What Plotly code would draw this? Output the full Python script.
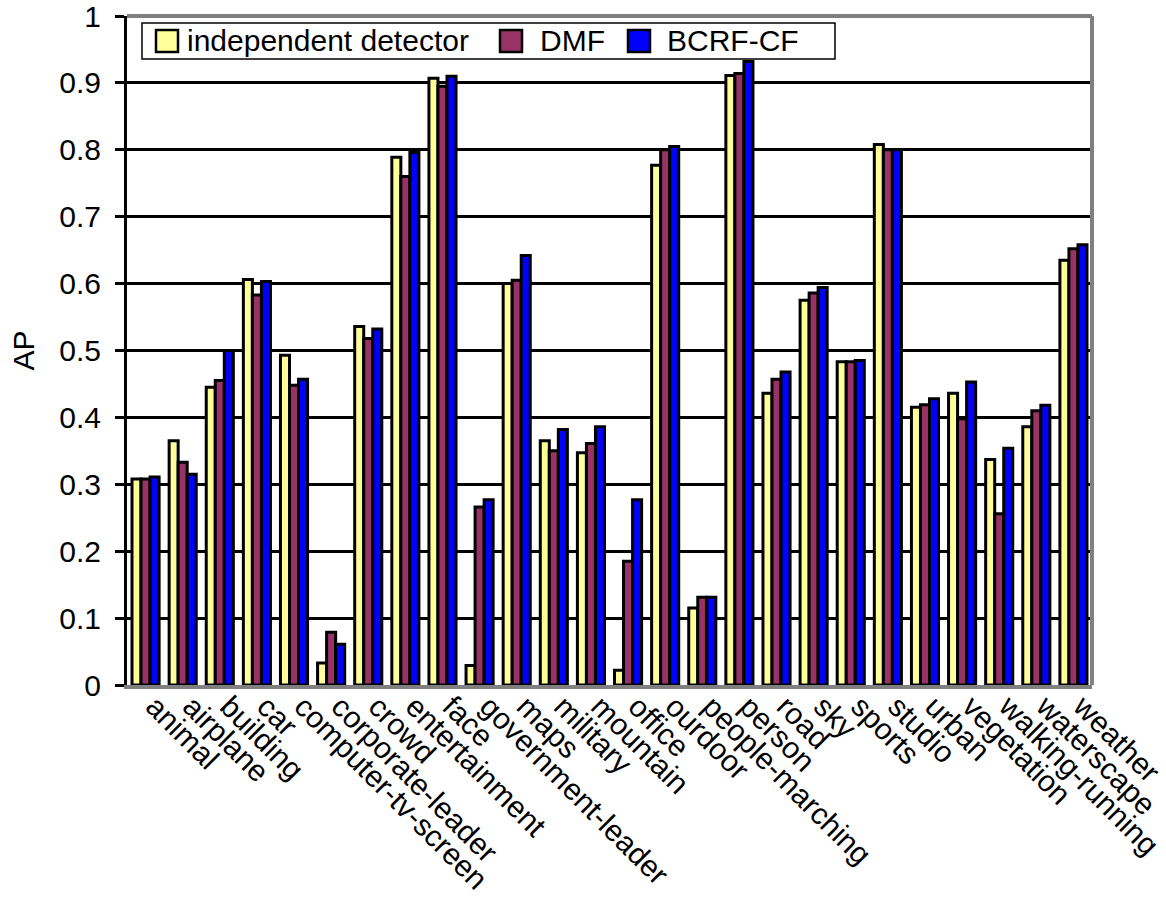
import plotly.graph_objects as go

categories = [
    "animal", "airplane", "building", "car", "computer-tv-screen",
    "corporate-leader", "crowd", "entertainment", "face", "government-leader",
    "maps", "military", "mountain", "office", "ourdoor", "people-marching",
    "person", "road", "sky", "sports", "studio", "urban", "vegetation",
    "walking-running", "waterscape", "weather",
]

independent_detector = [
    0.308, 0.365, 0.445, 0.606, 0.493, 0.033, 0.536, 0.789, 0.907, 0.029,
    0.600, 0.365, 0.347, 0.022, 0.777, 0.115, 0.911, 0.436, 0.575, 0.483,
    0.808, 0.415, 0.436, 0.337, 0.386, 0.635,
]
dmf = [
    0.308, 0.333, 0.455, 0.583, 0.448, 0.079, 0.518, 0.760, 0.895, 0.266,
    0.605, 0.350, 0.361, 0.185, 0.800, 0.131, 0.914, 0.457, 0.586, 0.483,
    0.800, 0.419, 0.398, 0.256, 0.410, 0.652,
]
bcrf_cf = [
    0.311, 0.315, 0.500, 0.603, 0.457, 0.061, 0.532, 0.796, 0.910, 0.277,
    0.642, 0.382, 0.386, 0.277, 0.805, 0.131, 0.932, 0.468, 0.594, 0.485,
    0.800, 0.428, 0.453, 0.354, 0.418, 0.658,
]

series_names = ["independent detector", "DMF", "BCRF-CF"]
series_values = [independent_detector, dmf, bcrf_cf]
series_colors = ["#FFFF99", "#993366", "#0000FF"]

y_ticks = [0, 0.1, 0.2, 0.3, 0.4, 0.5, 0.6, 0.7, 0.8, 0.9, 1]
y_tick_text = ["0", "0.1", "0.2", "0.3", "0.4", "0.5", "0.6", "0.7", "0.8", "0.9", "1"]

FONT = "Liberation Sans, Arial, sans-serif"
SIZE = 30

# figure / plot-area geometry in pixels
W, H = 1166, 899
M_L, M_R, M_T, M_B = 127, 74, 16, 214
PW, PH = W - M_L - M_R, H - M_T - M_B


def px_x(px):
    return (px - M_L) / PW


def px_y(py):
    return (H - M_B - py) / PH


fig = go.Figure()
for name, values, color in zip(series_names, series_values, series_colors):
    fig.add_trace(go.Bar(
        name=name,
        x=categories,
        y=values,
        marker=dict(color=color, line=dict(color="black", width=3)),
        showlegend=False,
    ))

fig.update_layout(
    width=W,
    height=H,
    margin=dict(l=M_L, r=M_R, t=M_T, b=M_B),
    paper_bgcolor="white",
    plot_bgcolor="white",
    barmode="group",
    bargap=0.27,
    bargroupgap=0,
    font=dict(family=FONT, size=SIZE, color="black"),
    showlegend=False,
)

fig.update_xaxes(
    type="category",
    tickangle=45,
    showgrid=False,
    showline=True,
    linecolor="#808080",
    linewidth=4,
    ticks="",
    automargin=False,
    ticklabelstandoff=-12,
    ticklabelshift=9,
    ticklabeloverflow="allow",
    tickfont=dict(family=FONT, size=SIZE, color="black"),
)

fig.update_yaxes(
    range=[0, 1],
    tickvals=y_ticks,
    ticktext=y_tick_text,
    showgrid=True,
    gridcolor="black",
    gridwidth=3,
    zeroline=False,
    showline=True,
    linecolor="black",
    linewidth=3,
    ticks="outside",
    ticklen=9,
    tickwidth=3,
    tickcolor="black",
    ticklabelstandoff=8,
    ticklabeloverflow="allow",
    automargin=False,
    tickfont=dict(family=FONT, size=SIZE, color="black"),
    title=dict(text="AP", font=dict(family=FONT, size=SIZE, color="black"), standoff=16),
)

# grey frame on the top and right edges of the plot area
fig.add_shape(type="line", xref="paper", yref="paper", x0=0, x1=1, y0=1, y1=1,
              line=dict(color="#808080", width=4), layer="above")
fig.add_shape(type="line", xref="paper", yref="paper", x0=1, x1=1, y0=0, y1=1,
              line=dict(color="#808080", width=4), layer="above")

# legend box drawn inside the plot area
fig.add_shape(type="rect", xref="paper", yref="paper",
              x0=px_x(142), x1=px_x(835), y0=px_y(23), y1=px_y(59),
              fillcolor="white", line=dict(color="black", width=1.5), layer="above")
legend_symbol_left = [156, 500, 628]
legend_text_left = [187, 540, 667]
for name, color, sx, tx in zip(series_names, series_colors, legend_symbol_left, legend_text_left):
    fig.add_shape(type="rect", xref="paper", yref="paper",
                  x0=px_x(sx), x1=px_x(sx + 22), y0=px_y(30), y1=px_y(52),
                  fillcolor=color, line=dict(color="black", width=2.5), layer="above")
    fig.add_annotation(xref="paper", yref="paper", x=px_x(tx - 2), y=px_y(41),
                       text=name, showarrow=False, xanchor="left", yanchor="middle",
                       font=dict(family=FONT, size=SIZE, color="black"))

fig.write_html("out.html")
